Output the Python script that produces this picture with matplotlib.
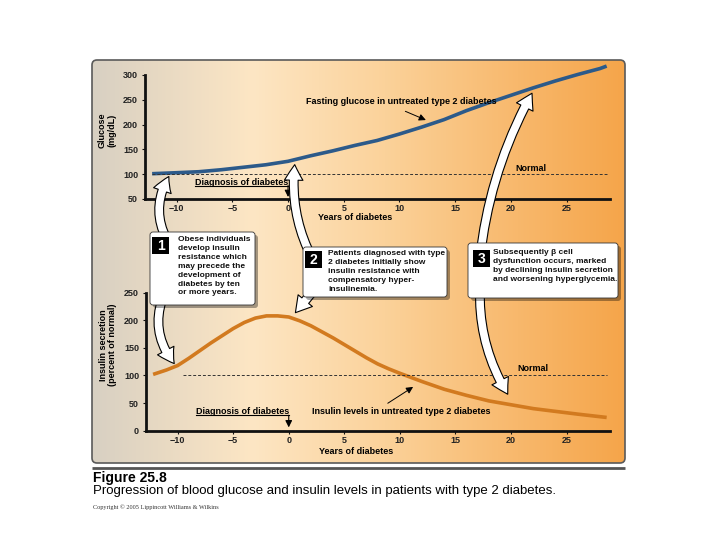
import numpy as np
import matplotlib
matplotlib.use("Agg")
import matplotlib.pyplot as plt
from matplotlib.colors import LinearSegmentedColormap
from matplotlib.patches import FancyBboxPatch, Rectangle

plt.rcParams['font.family'] = ['Liberation Sans', 'DejaVu Sans']

# data (years relative to diagnosis)
glucose_years = [-12.2, -10, -8, -6, -4, -2, 0, 2, 4, 6, 8, 10, 12, 14, 16, 18, 20, 22, 24, 26, 28, 28.6]
glucose = [101, 103, 105, 109, 114, 119, 126, 137, 147, 158, 168, 181, 195, 210, 228, 244, 259, 274,
           288, 301, 313, 318]

insulin_years = [-12.2, -11, -10, -9, -8, -7, -6, -5, -4, -3, -2, -1, 0, 1, 2, 3, 4, 5, 6, 7, 8, 9, 10,
                 12, 14, 16, 18, 20, 22, 24, 26, 28.6]
insulin = [102, 110, 118, 131, 145, 159, 172, 185, 196, 204, 208, 208, 206, 199, 190, 179, 168, 156,
           144, 132, 121, 112, 104, 89, 75, 64, 54, 47, 40, 35, 30, 24]

normal_glucose = 100
normal_insulin = 100
year_ticks = [-10, -5, 0, 5, 10, 15, 20, 25]
glucose_ticks = [50, 100, 150, 200, 250, 300]
insulin_ticks = [0, 50, 100, 150, 200, 250]

box_texts = [
    "Obese individuals\ndevelop insulin\nresistance which\nmay precede the\ndevelopment of\ndiabetes by ten\nor more years.",
    "Patients diagnosed with type\n2 diabetes initially show\ninsulin resistance with\ncompensatory hyper-\ninsulinemia.",
    "Subsequently \u03b2 cell\ndysfunction occurs, marked\nby declining insulin secretion\nand worsening hyperglycemia.",
]

W, H = 720, 540
fig = plt.figure(figsize=(7.2, 5.4), dpi=100)
fig.patch.set_facecolor('white')


def rect(l, t, r, b):
    return [l / W, 1 - b / H, (r - l) / W, (b - t) / H]


# background panel with gradient
bg = fig.add_axes([0, 0, 1, 1], zorder=0)
bg.set_xlim(0, W)
bg.set_ylim(H, 0)
bg.axis('off')
panel = FancyBboxPatch((92, 60), 533, 403, boxstyle="round,pad=0,rounding_size=5",
                       fc='none', ec='#5a5a5a', lw=1.2, zorder=3)
bg.add_patch(panel)
cmap = LinearSegmentedColormap.from_list('bgc', [(0, '#d8d0c2'), (0.3, '#fde6c4'),
                                                  (0.55, '#fbd29a'), (0.8, '#f8b86c'),
                                                  (1, '#f5a54a')])
grad = np.linspace(0, 1, 256).reshape(1, -1)
im = bg.imshow(grad, extent=(92, 625, 463, 60), cmap=cmap, aspect='auto', zorder=1)
clip = FancyBboxPatch((92, 60), 533, 403, boxstyle="round,pad=0,rounding_size=5",
                      transform=bg.transData)
im.set_clip_path(clip)

tick_font = dict(fontsize=6.5, fontweight='bold', color='#222222')
small_head = '-|>,head_length=0.4,head_width=0.2'


def style_axis(ax, ylim, yticks):
    ax.set_xlim(-12.84, 28.9)
    ax.set_ylim(*ylim)
    ax.set_facecolor('none')
    for s in ('top', 'right'):
        ax.spines[s].set_visible(False)
    for s in ('left', 'bottom'):
        ax.spines[s].set_linewidth(2)
        ax.spines[s].set_color('#111111')
    ax.set_xticks(year_ticks)
    ax.set_yticks(yticks)
    ax.set_xticklabels([str(t).replace('-', '\u2212') for t in year_ticks], **tick_font)
    ax.set_yticklabels([str(t) for t in yticks], **tick_font)
    ax.tick_params(length=2, width=0.8, pad=1.5, color='#111111')
    ax.tick_params(axis='y', pad=3)


# top: glucose
ax1 = fig.add_axes(rect(145, 75, 610, 199), zorder=1)
style_axis(ax1, (50, 300), glucose_ticks)
ax1.plot(glucose_years, glucose, color='#2c5a8a', lw=2.6, clip_on=False, solid_capstyle='butt')
ax1.hlines(normal_glucose, -12.2, 28.6, colors='#333333', linestyles=(0, (3, 2)), lw=0.7)
ax1.text(20.4, 112, "Normal", fontsize=6.5, fontweight='bold', va='center')
ax1.text(1.6, 247, "Fasting glucose in untreated type 2 diabetes", fontsize=6.5,
         fontweight='bold', va='center')
ax1.annotate("", xy=(12.6, 207), xytext=(10.3, 229),
             arrowprops=dict(arrowstyle=small_head, lw=0.7, color='black'))
ax1.text(-8.35, 84, "Diagnosis of diabetes", fontsize=6.5, fontweight='bold', va='center')
ax1.plot([-8.35, 0], [77, 77], color='black', lw=0.8)
ax1.annotate("", xy=(0, 54), xytext=(0, 77),
             arrowprops=dict(arrowstyle=small_head, lw=0.8, color='black', shrinkA=0, shrinkB=0))
ax1.set_xlabel("Years of diabetes", fontsize=6.5, fontweight='bold')
ax1.xaxis.set_label_coords(0.452, -0.115)
ax1.text(-0.082, 0.556, "Glucose\n(mg/dL)", transform=ax1.transAxes, rotation=90,
         ha='center', va='center', fontsize=6.5, fontweight='bold', linespacing=1.1)

# bottom: insulin
ax2 = fig.add_axes(rect(146, 292.7, 610, 430.7), zorder=1)
style_axis(ax2, (0, 250), insulin_ticks)
ax2.plot(insulin_years, insulin, color='#d27a1f', lw=2.6, clip_on=False, solid_capstyle='butt')
ax2.hlines(normal_insulin, -9.5, 28.6, colors='#333333', linestyles=(0, (3, 2)), lw=0.7)
ax2.text(20.6, 113, "Normal", fontsize=6.5, fontweight='bold', va='center')
ax2.text(2.1, 35, "Insulin levels in untreated type 2 diabetes", fontsize=6.5,
         fontweight='bold', va='center')
ax2.annotate("", xy=(11.4, 82), xytext=(8.7, 47),
             arrowprops=dict(arrowstyle=small_head, lw=0.7, color='black'))
ax2.text(-8.35, 35, "Diagnosis of diabetes", fontsize=6.5, fontweight='bold', va='center')
ax2.plot([-8.35, 0], [28, 28], color='black', lw=0.8)
ax2.annotate("", xy=(0, 6), xytext=(0, 28),
             arrowprops=dict(arrowstyle=small_head, lw=0.8, color='black', shrinkA=0, shrinkB=0))
ax2.set_xlabel("Years of diabetes", fontsize=6.5, fontweight='bold')
ax2.xaxis.set_label_coords(0.452, -0.12)
ax2.text(-0.082, 0.62, "Insulin secretion\n(percent of normal)", transform=ax2.transAxes,
         rotation=90, ha='center', va='center', fontsize=6.5, fontweight='bold', linespacing=1.1)

# overlay: callout boxes and big arrows
ov = fig.add_axes([0, 0, 1, 1], zorder=3)
ov.set_xlim(0, W)
ov.set_ylim(H, 0)
ov.axis('off')
ov.set_facecolor('none')


def g_at(x):
    return float(np.interp(x, glucose_years, glucose))


def i_at(x):
    return float(np.interp(x, insulin_years, insulin))


big = "simple,head_length=0.8,head_width=0.95,tail_width=0.45"


def big_arrow(base, ax, tip, rad):
    ov.annotate("", xy=tip, xycoords=ax.transData, xytext=base, textcoords='data',
                arrowprops=dict(arrowstyle=big, mutation_scale=14, fc='white', ec='black',
                                lw=0.8, shrinkA=0, shrinkB=0,
                                connectionstyle="arc3,rad=%s" % rad),
                zorder=4)


big_arrow((170, 245), ax1, (-10.7, g_at(-10.7) - 7), -0.3)
big_arrow((165, 292), ax2, (-10.3, i_at(-10.3) + 6), 0.3)
big_arrow((312, 258), ax1, (0.6, g_at(0.6) - 10), -0.15)
big_arrow((314, 290), ax2, (0.6, i_at(0.6) + 12), 0.0)
big_arrow((480, 258), ax1, (21.9, g_at(21.9) - 10), -0.1)
big_arrow((480, 288), ax2, (19.7, i_at(19.7) + 18), 0.15)

boxes = [(150, 232, 255, 305), (303, 247, 447, 297), (468, 243, 618, 298)]
squares = [(152, 237), (305, 251), (473, 250)]
text_gap = [26, 23, 20]
for n, ((l, t, r, b), (sx, sy), gap, txt) in enumerate(zip(boxes, squares, text_gap, box_texts), start=1):
    ov.add_patch(FancyBboxPatch((l + 3, t + 3), r - l, b - t, boxstyle="round,pad=0,rounding_size=3",
                                fc='black', ec='none', alpha=0.35, zorder=5))
    ov.add_patch(FancyBboxPatch((l, t), r - l, b - t, boxstyle="round,pad=0,rounding_size=3",
                                fc='white', ec='#333333', lw=0.6, zorder=6))
    ov.add_patch(Rectangle((sx, sy), 17, 17, fc='black', ec='none', zorder=7))
    ov.text(sx + 8.5, sy + 9, str(n), color='white', fontsize=10, fontweight='bold',
            ha='center', va='center', zorder=8)
    ov.text(sx + gap, sy - 1, txt, fontsize=6.0, fontweight='bold', ha='left', va='top',
            linespacing=1.38, color='#111111', zorder=8)

# caption
ov.plot([92, 625], [468, 468], color='#555555', lw=2, solid_capstyle='butt')
ov.text(93, 478, "Figure 25.8", fontsize=10, fontweight='bold', va='center')
ov.text(93, 491, "Progression of blood glucose and insulin levels in patients with type 2 diabetes.",
        fontsize=9.5, va='center')
ov.text(93, 507, "Copyright \u00a9 2005 Lippincott Williams & Wilkins", fontsize=4.5,
        family='Liberation Serif', va='center', color='#333333')

fig.savefig("out.png", dpi=100)
